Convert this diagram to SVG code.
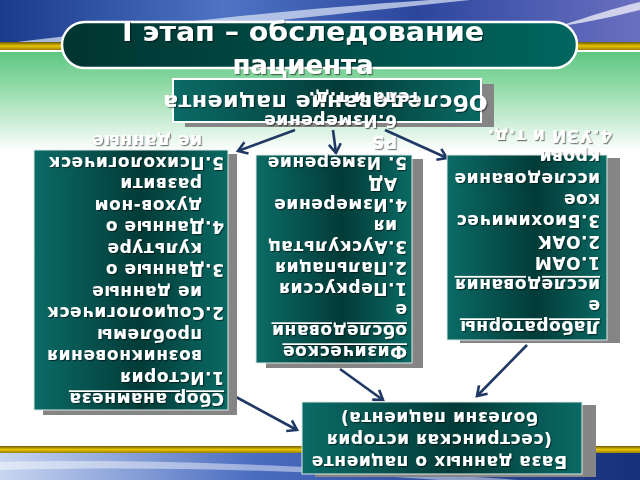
<svg xmlns="http://www.w3.org/2000/svg" width="640" height="480" viewBox="0 0 640 480">
<defs>
  <linearGradient id="sky" x1="0" y1="0" x2="1" y2="0">
    <stop offset="0" stop-color="#1a3a8a"/>
    <stop offset="0.35" stop-color="#4f74c4"/>
    <stop offset="0.65" stop-color="#2c469e"/>
    <stop offset="1" stop-color="#6a70c0"/>
  </linearGradient>
  <linearGradient id="sky2" x1="0" y1="0" x2="1" y2="0">
    <stop offset="0" stop-color="#c8d6f0"/>
    <stop offset="0.4" stop-color="#4a6cc0"/>
    <stop offset="1" stop-color="#16307a"/>
  </linearGradient>
  <linearGradient id="gold" x1="0" y1="0" x2="0" y2="1">
    <stop offset="0" stop-color="#6e5a00"/>
    <stop offset="0.5" stop-color="#e6c400"/>
    <stop offset="1" stop-color="#9a8000"/>
  </linearGradient>
  <linearGradient id="green" x1="0" y1="0" x2="0" y2="1">
    <stop offset="0" stop-color="#5ec683"/>
    <stop offset="0.35" stop-color="#92dba8"/>
    <stop offset="1" stop-color="#ffffff"/>
  </linearGradient>
  <linearGradient id="teal" x1="0" y1="0" x2="1" y2="0">
    <stop offset="0" stop-color="#0b6b66"/>
    <stop offset="0.55" stop-color="#023b38"/>
    <stop offset="1" stop-color="#0a6a64"/>
  </linearGradient>
  <linearGradient id="pill" x1="0" y1="0" x2="1" y2="0">
    <stop offset="0" stop-color="#003430"/>
    <stop offset="1" stop-color="#00665f"/>
  </linearGradient>
  <filter id="ts" x="-10%" y="-20%" width="120%" height="140%">
    <feDropShadow dx="1.2" dy="1.2" stdDeviation="0.6" flood-color="#000" flood-opacity="0.5"/>
  </filter>
  <marker id="ah" markerUnits="userSpaceOnUse" markerWidth="16" markerHeight="16" refX="12" refY="8" orient="auto">
    <path d="M3,2 L12,8 L3,14" fill="none" stroke="#1f3864" stroke-width="2.6"/>
  </marker>
  <style>
    .box { fill: url(#teal); stroke: #dfe8e6; stroke-width: 1; }
    .shd { fill: #858585; }
    .t { font-family: "DejaVu Sans", Verdana, sans-serif; font-weight: bold; font-size: 17px; fill: #ffffff; letter-spacing: 0.6px; }
    .u { text-decoration: underline; }
    .big { font-size: 22px; letter-spacing: 0.6px; }
    .title { font-family: "DejaVu Sans", Verdana, sans-serif; font-weight: bold; font-size: 26px; fill: #ffffff; }
    .conn { fill: none; stroke: #1f3864; stroke-width: 2.6; marker-end: url(#ah); }
  </style>
</defs>

<!-- background -->
<rect x="0" y="0" width="640" height="480" fill="#ffffff"/>
<rect x="0" y="52" width="640" height="100" fill="url(#green)"/>
<rect x="0" y="0" width="640" height="44" fill="url(#sky)"/>
<path d="M0,44 C120,30 250,12 430,0 L470,0 C300,18 150,34 40,44 Z" fill="#dfe8f8" opacity="0.7"/>
<path d="M560,26 C590,16 615,8 640,2 L640,10 C615,16 590,22 560,26 Z" fill="#ffffff" opacity="0.7"/>
<rect x="0" y="42" width="640" height="8" fill="url(#gold)"/>
<rect x="0" y="50" width="640" height="2" fill="#ffffff"/>
<rect x="0" y="444" width="640" height="2" fill="#ffffff"/>
<rect x="0" y="446" width="640" height="7" fill="url(#gold)"/>
<rect x="0" y="453" width="640" height="27" fill="url(#sky2)"/>
<path d="M0,462 C150,458 320,466 520,480 L440,480 C300,470 150,466 0,470 Z" fill="#ffffff" opacity="0.45"/>

<!-- title -->
<g id="title">
  <rect x="62" y="22" width="515" height="46" rx="23" fill="url(#pill)" stroke="#ffffff" stroke-width="2.5"/>
  <g filter="url(#ts)">
    <text class="title" x="303" y="41" text-anchor="middle" textLength="362" lengthAdjust="spacingAndGlyphs">I этап – обследование</text>
    <text class="title" x="303" y="74" text-anchor="middle">пациента</text>
  </g>
</g>

<!-- connectors -->
<g id="connectors">
  <path class="conn" d="M295,130 L238,151"/>
  <path class="conn" d="M333,130 L336,153"/>
  <path class="conn" d="M385,130 L447,158"/>
  <path class="conn" d="M236,397 L297,430"/>
  <path class="conn" d="M340,369 L383,400"/>
  <path class="conn" d="M527,345 L477,396"/>
</g>

<!-- top node -->
<g id="node-obsl">
  <rect class="shd" x="185" y="84" width="309" height="43"/>
  <rect x="173" y="79" width="308" height="43" fill="url(#teal)" stroke="#ffffff" stroke-width="2"/>
  <g filter="url(#ts)">
    <text class="t big" transform="translate(325,95) rotate(180)" text-anchor="middle">Обследование пациента</text>
  </g>
</g>

<!-- anamnesis node -->
<g id="node-anamnez">
  <rect class="shd" x="43" y="154" width="194" height="261"/>
  <rect class="box" x="34" y="150" width="194" height="260"/>
  <g filter="url(#ts)">
    <text class="t u" transform="translate(224,393) rotate(180)">Сбор анамнеза</text>
    <text class="t" transform="translate(224,371.5) rotate(180)">1.История</text>
    <text class="t" transform="translate(202,350) rotate(180)">возникновения</text>
    <text class="t" transform="translate(202,328.5) rotate(180)">проблемы</text>
    <text class="t" transform="translate(224,307) rotate(180)">2.Социологическ</text>
    <text class="t" transform="translate(202,285.5) rotate(180)">ие данные</text>
    <text class="t" transform="translate(224,264) rotate(180)">3.Данные о</text>
    <text class="t" transform="translate(202,242.5) rotate(180)">культуре</text>
    <text class="t" transform="translate(224,221) rotate(180)">4.Данные о</text>
    <text class="t" transform="translate(202,199.5) rotate(180)">духов-ном</text>
    <text class="t" transform="translate(202,178) rotate(180)">развити</text>
    <text class="t" transform="translate(224,156.5) rotate(180)">5.Психологическ</text>
    <text class="t" transform="translate(202,135) rotate(180)">ие данные</text>
  </g>
</g>

<!-- physical exam node -->
<g id="node-fiz">
  <rect class="shd" x="266" y="159" width="157" height="209"/>
  <rect class="box" x="256" y="155" width="156" height="208"/>
  <g filter="url(#ts)">
    <text class="t u" transform="translate(407,346) rotate(180)">Физическое</text>
    <text class="t u" transform="translate(407,325) rotate(180)">обследовани</text>
    <text class="t" transform="translate(407,304) rotate(180)">е</text>
    <text class="t" transform="translate(407,283) rotate(180)">1.Перкуссия</text>
    <text class="t" transform="translate(407,262) rotate(180)">2.Пальпация</text>
    <text class="t" transform="translate(407,241) rotate(180)">3.Аускультац</text>
    <text class="t" transform="translate(397,220) rotate(180)">ия</text>
    <text class="t" transform="translate(407,199) rotate(180)">4.Измерение</text>
    <text class="t" transform="translate(397,178) rotate(180)">АД</text>
    <text class="t" transform="translate(407,157) rotate(180)">5. Измерение</text>
    <text class="t" transform="translate(397,136) rotate(180)">PS</text>
    <text class="t" transform="translate(397,115) rotate(180)">6.Измерение</text>
    <text class="t" transform="translate(420,92) rotate(180)">тела и т.д.</text>
  </g>
</g>

<!-- lab node -->
<g id="node-lab">
  <rect class="shd" x="460" y="158" width="160" height="185"/>
  <rect class="box" x="447" y="155" width="160" height="185"/>
  <g filter="url(#ts)">
    <text class="t u" transform="translate(600,321) rotate(180)">Лабораторны</text>
    <text class="t" transform="translate(600,299.8) rotate(180)">е</text>
    <text class="t u" transform="translate(600,278.6) rotate(180)">исследования</text>
    <text class="t" transform="translate(600,257.4) rotate(180)">1.ОАМ</text>
    <text class="t" transform="translate(600,236.2) rotate(180)">2.ОАК</text>
    <text class="t" transform="translate(600,215) rotate(180)">3.Биохимичес</text>
    <text class="t" transform="translate(600,193.8) rotate(180)">кое</text>
    <text class="t" transform="translate(600,172.6) rotate(180)">исследование</text>
    <text class="t" transform="translate(600,151.4) rotate(180)">крови</text>
    <text class="t" transform="translate(612,130.2) rotate(180)">4.УЗИ и т.д.</text>
  </g>
</g>

<!-- database node -->
<g id="node-baza">
  <rect class="shd" x="315" y="405" width="281" height="72"/>
  <rect class="box" x="302" y="402" width="280" height="72"/>
  <g filter="url(#ts)">
    <text class="t" transform="translate(439,456) rotate(180)" text-anchor="middle">База данных о пациенте</text>
    <text class="t" transform="translate(439,434) rotate(180)" text-anchor="middle">(сестринская история</text>
    <text class="t" transform="translate(439,412) rotate(180)" text-anchor="middle">болезни пациента)</text>
  </g>
</g>
</svg>
